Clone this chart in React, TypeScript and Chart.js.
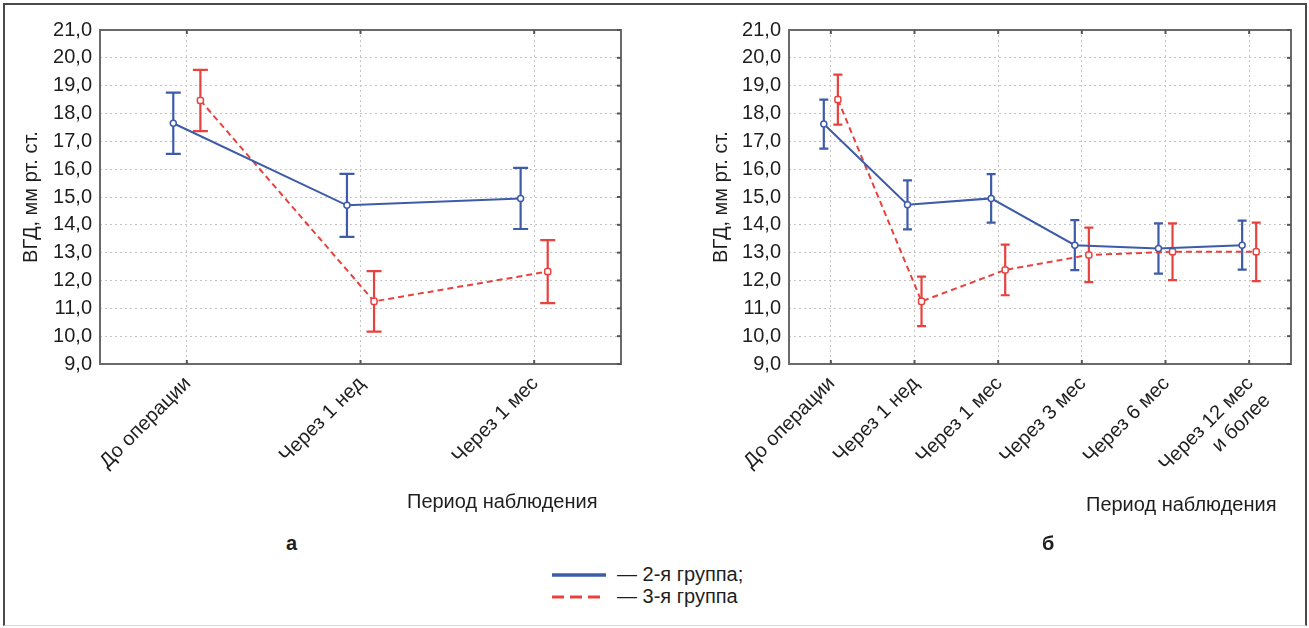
import React, { useEffect, useRef } from 'react';
import { Chart, registerables } from 'chart.js';

Chart.register(...registerables);

// ---------- data ----------
const categoriesA = ['До операции', 'Через 1 нед', 'Через 1 мес'];
const categoriesB = ['До операции', 'Через 1 нед', 'Через 1 мес', 'Через 3 мес', 'Через 6 мес', ['Через 12 мес', 'и более']];

const group2A = [17.65, 14.7, 14.95];
const group2AErr = [1.1, 1.13, 1.1];
const group3A = [18.47, 11.25, 12.32];
const group3AErr = [1.1, 1.09, 1.13];

const group2B = [17.62, 14.72, 14.95, 13.27, 13.15, 13.27];
const group2BErr = [0.88, 0.88, 0.87, 0.9, 0.9, 0.88];
const group3B = [18.5, 11.25, 12.38, 12.92, 13.03, 13.03];
const group3BErr = [0.9, 0.89, 0.91, 0.98, 1.02, 1.05];

const yTickValues = [9, 10, 11, 12, 13, 14, 15, 16, 17, 18, 19, 20, 21];
const seriesNames = ['2-я группа', '3-я группа'];
const yTitle = 'ВГД, мм рт. ст.';
const xTitle = 'Период наблюдения';
const panelLabels = ['а', 'б'];

// ---------- styles ----------
const FONT = "'Liberation Sans', Arial, sans-serif";
const TEXT = '#1e1e1e';
const BLUE = '#3d5ba8';
const RED = '#e8423f';
const GRID = '#c4c4c4';
const FRAME = '#6a6a6a';

const framePlugin = {
  id: 'frameAndErrors',
  beforeDatasetsDraw(chart: any, _args: any, opts: any) {
    const { ctx, chartArea: a, scales } = chart;
    const xs = scales.x;
    const ys = scales.y;
    ctx.save();
    // plot frame
    ctx.strokeStyle = FRAME;
    ctx.lineWidth = 2;
    ctx.setLineDash([]);
    ctx.strokeRect(a.left, a.top, a.right - a.left, a.bottom - a.top);
    // inner tick marks
    ctx.strokeStyle = '#555';
    ctx.lineWidth = 2;
    ys.ticks.forEach((t: any) => {
      const y = ys.getPixelForValue(t.value);
      ctx.beginPath();
      ctx.moveTo(a.right - 4, y);
      ctx.lineTo(a.right, y);
      ctx.stroke();
    });
    xs.ticks.forEach((t: any) => {
      const x = xs.getPixelForValue(t.value);
      ctx.beginPath();
      ctx.moveTo(x, a.top);
      ctx.lineTo(x, a.top + 4);
      ctx.moveTo(x, a.bottom);
      ctx.lineTo(x, a.bottom - 4);
      ctx.stroke();
    });
    // error bars
    const cap = opts.capWidth || 10;
    chart.data.datasets.forEach((ds: any) => {
      ctx.strokeStyle = ds.borderColor;
      ctx.lineWidth = 2.2;
      ds.data.forEach((p: any, i: number) => {
        const x = xs.getPixelForValue(p.x);
        const yl = ys.getPixelForValue(p.y - ds.err[i]);
        const yh = ys.getPixelForValue(p.y + ds.err[i]);
        ctx.beginPath();
        ctx.moveTo(x, yl);
        ctx.lineTo(x, yh);
        ctx.moveTo(x - cap / 2, yl);
        ctx.lineTo(x + cap / 2, yl);
        ctx.moveTo(x - cap / 2, yh);
        ctx.lineTo(x + cap / 2, yh);
        ctx.stroke();
      });
    });
    ctx.restore();
  },
};

function makeConfig(
  cats: any[],
  g2: number[],
  g2e: number[],
  g3: number[],
  g3e: number[],
  o: { yWidth: number; padRight: number; cap: number; shift: number }
): any {
  const n = cats.length;
  const tickFont = { family: FONT, size: 20 };
  return {
    type: 'line',
    data: {
      datasets: [
        {
          label: seriesNames[0],
          data: g2.map((v, i) => ({ x: i - o.shift, y: v })),
          err: g2e,
          borderColor: BLUE,
          borderWidth: 2,
          pointStyle: 'circle',
          pointRadius: 3,
          pointBackgroundColor: '#ffffff',
          pointBorderColor: BLUE,
          pointBorderWidth: 1.5,
          tension: 0,
        },
        {
          label: seriesNames[1],
          data: g3.map((v, i) => ({ x: i + o.shift, y: v })),
          err: g3e,
          borderColor: RED,
          borderWidth: 2,
          borderDash: [6, 4],
          pointStyle: 'rectRounded',
          pointRadius: 3.5,
          pointBackgroundColor: '#ffffff',
          pointBorderColor: RED,
          pointBorderWidth: 1.5,
          tension: 0,
        },
      ],
    },
    options: {
      animation: false,
      responsive: false,
      devicePixelRatio: 1,
      layout: { padding: { top: 30, right: o.padRight, left: 0, bottom: 0 } },
      plugins: {
        legend: { display: false },
        tooltip: { enabled: false },
        frameAndErrors: { capWidth: o.cap },
      },
      scales: {
        x: {
          type: 'linear',
          min: -0.5,
          max: n - 0.5,
          afterBuildTicks: (s: any) => {
            s.ticks = cats.map((_: any, i: number) => ({ value: i }));
          },
          afterFit: (s: any) => {
            s.height = 140;
          },
          grid: { color: GRID, lineWidth: 1, drawTicks: false },
          border: { display: false, dash: [2, 3] },
          ticks: {
            autoSkip: false,
            minRotation: 45,
            maxRotation: 45,
            padding: 8,
            labelOffset: 1,
            font: tickFont,
            color: TEXT,
            callback: (v: number) => cats[Math.round(v)],
          },
        },
        y: {
          min: 9,
          max: 21,
          afterBuildTicks: (s: any) => {
            s.ticks = yTickValues.map((v) => ({ value: v }));
          },
          afterFit: (s: any) => {
            s.width = o.yWidth;
          },
          grid: { color: GRID, lineWidth: 1, drawTicks: false },
          border: { display: false, dash: [2, 3] },
          ticks: {
            padding: 8,
            font: tickFont,
            color: TEXT,
            callback: (v: number) => v.toFixed(1).replace('.', ','),
          },
          title: {
            display: true,
            text: yTitle,
            font: { family: FONT, size: 20 },
            color: TEXT,
            padding: { top: 19, bottom: 0 },
          },
        },
      },
    },
    plugins: [framePlugin],
  };
}

const textStyle = (left: number, top: number, extra: any = {}): any => ({
  position: 'absolute',
  left,
  top,
  fontSize: 20,
  lineHeight: '24px',
  whiteSpace: 'nowrap',
  ...extra,
});

export default function App() {
  const leftRef = useRef<HTMLCanvasElement>(null);
  const rightRef = useRef<HTMLCanvasElement>(null);

  useEffect(() => {
    const c1 = new Chart(
      leftRef.current as HTMLCanvasElement,
      makeConfig(categoriesA, group2A, group2AErr, group3A, group3AErr, { yWidth: 100, padRight: 29, cap: 15, shift: 0.078 })
    );
    const c2 = new Chart(
      rightRef.current as HTMLCanvasElement,
      makeConfig(categoriesB, group2B, group2BErr, group3B, group3BErr, { yWidth: 99, padRight: 18, cap: 9, shift: 0.084 })
    );
    return () => {
      c1.destroy();
      c2.destroy();
    };
  }, []);

  return (
    <div
      style={{
        position: 'absolute',
        left: 0,
        top: 0,
        width: 1309,
        height: 628,
        background: '#ffffff',
        fontFamily: FONT,
        color: TEXT,
        overflow: 'hidden',
      }}
    >
      <div
        style={{
          position: 'absolute',
          left: 3,
          top: 3,
          width: 1304,
          height: 623,
          boxSizing: 'border-box',
          borderTop: '2px solid #4a4a4a',
          borderLeft: '2px solid #4a4a4a',
          borderRight: '2px solid #4a4a4a',
          borderBottom: '1px solid #d8d8d8',
        }}
      />
      <canvas ref={leftRef} width={650} height={504} style={{ position: 'absolute', left: 0, top: 0 }} />
      <canvas ref={rightRef} width={619} height={504} style={{ position: 'absolute', left: 690, top: 0 }} />

      <div style={textStyle(407, 489)}>{xTitle}</div>
      <div style={textStyle(1086, 492)}>{xTitle}</div>
      <div style={textStyle(286, 531, { fontWeight: 'bold' })}>{panelLabels[0]}</div>
      <div style={textStyle(1042, 531, { fontWeight: 'bold' })}>{panelLabels[1]}</div>

      <svg style={{ position: 'absolute', left: 552, top: 566 }} width={56} height={40}>
        <line x1={0} x2={54} y1={9} y2={9} stroke={BLUE} strokeWidth={3.5} />
        <line x1={0} x2={54} y1={31} y2={31} stroke={RED} strokeWidth={3} strokeDasharray="12 6" />
      </svg>
      <div style={textStyle(617, 562)}>— {seriesNames[0]};</div>
      <div style={textStyle(617, 584)}>— {seriesNames[1]}</div>
    </div>
  );
}
